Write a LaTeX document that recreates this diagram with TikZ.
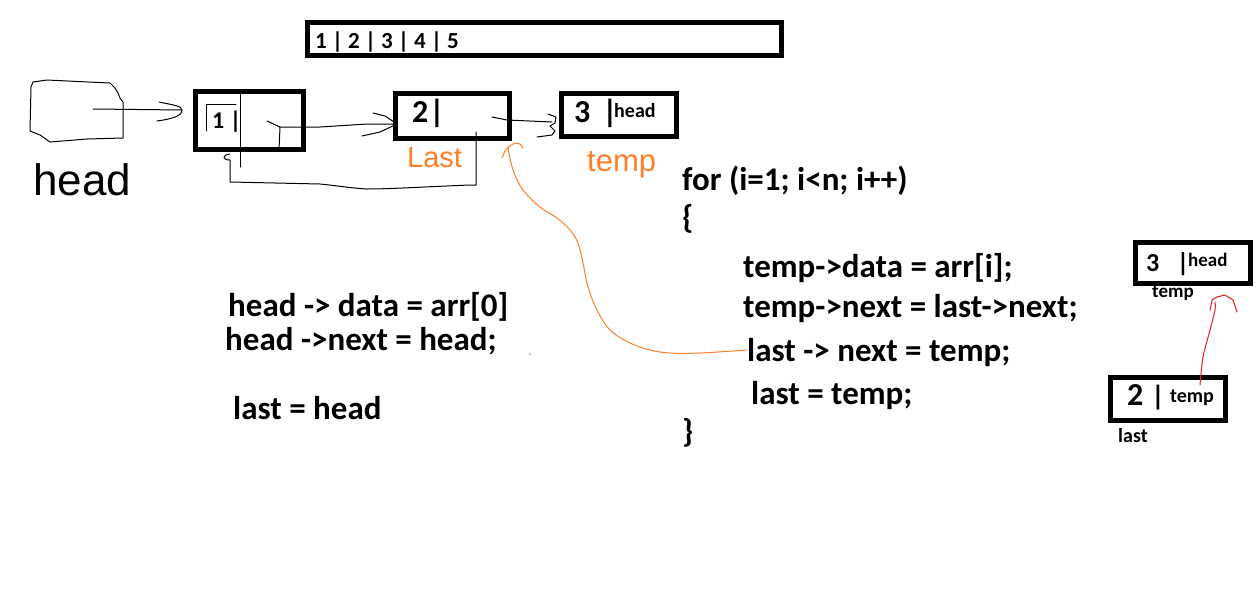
\documentclass[tikz,border=0pt]{standalone}
\usepackage{fontspec}
\setmainfont{Carlito}
\newfontfamily\handfont{Liberation Sans}
\definecolor{orangeink}{RGB}{255,127,39}
\definecolor{redink}{RGB}{237,28,36}
\begin{document}
\begin{tikzpicture}[x=1pt,y=-1pt,
  box/.style={draw, line width=5pt, inner sep=0pt, outer sep=0pt},
  ink/.style={draw, line width=1pt, line join=round, line cap=round},
  code/.style={anchor=base west, inner sep=0pt, font=\bfseries\fontsize{33}{38}\selectfont},
  lbl/.style={anchor=base west, inner sep=0pt, font=\bfseries\fontsize{#1}{#1}\selectfont},
  bar/.style={anchor=base, inner sep=0pt, font=\bfseries\fontsize{#1}{#1}\selectfont},
  hand/.style={anchor=base west, inner sep=0pt, font=\handfont\fontsize{#1}{#1}\selectfont}
]
\useasboundingbox[fill=white] (0,0) rectangle (1259,603);

% array box
\node[box, minimum width=474pt, minimum height=33pt] (arr) at (544.5,39) {};
\node[lbl=23] (arrtxt) at (315,48) {1 | 2 | 3 | 4 | 5};

% head blob
\draw[ink] (31,87) -- (33,82) -- (47,80) -- (88,82) -- (110,83) -- (115,88) -- (118,93) -- (120,98) -- (123,102) -- (123,138) -- (87,139) -- (50,142) -- (40,135) -- (30,131) -- cycle;
\node[hand=44] (headhand) at (33,195) {head};

% nodes
\node[box, minimum width=108pt, minimum height=58pt] (n1) at (249.5,120.5) {};
\node[box, minimum width=114pt, minimum height=45pt] (n2) at (452.5,116) {};
\node[box, minimum width=115pt, minimum height=43pt] (n3) at (619,115) {};

% node 1 contents
\draw[ink] (206,131) -- (206,104) -- (236,104);
\node[lbl=24] (t1) at (212,128) {1 |};
\coordinate (div1a) at (240,91.5);
\coordinate (div1b) at (240,167);
\draw[ink] (div1a) -- (div1b);

% node 2 contents
\node[lbl=32] (t2) at (412,122) {2};
\node[bar=32] (b2) at (437,122) {|};
% node 3 contents
\node[lbl=32] (t3) at (574,122) {3};
\node[bar=32] (b3) at (610,122) {|};
\node[lbl=20] (h3) at (614,117) {head};

% blob -> node 1
\coordinate (blobin) at (93,109);
\coordinate (a1tip) at (182,110);
\draw[ink] (blobin) -- (a1tip);
\draw[ink] (159,102) .. controls (173,105) and (182,106) .. (a1tip) .. controls (182,116) and (172,119) .. (157,121);

% node 1 -> node 2
\coordinate (n1out) at (267,121);
\coordinate (a2tip) at (397,124);
\draw[ink] (n1out) -- (280,127) -- (320,127) -- (367,124) -- (a2tip);
\draw[ink] (280,127) -- (279,150) -- (272,150);
\draw[ink] (373,113) -- (385,116) -- (a2tip) -- (380,132) -- (362,136);

% node 2 -> node 3
\coordinate (n2out) at (492,117);
\coordinate (a3tip) at (552,122);
\draw[ink] (n2out) -- (507,120) -- (a3tip);
\draw[ink] (548,114) -- (556,117) -- (555,123) -- (550,126) -- (555,131) -- (552,135) -- (537,137);

% node 2 back to node 1 (last link)
\coordinate (n2down) at (476,132);
\coordinate (n1hook) at (230,154);
\draw[ink] (n2down) -- (476,185) -- (470,185) .. controls (420,187) and (390,189) .. (367,189) .. controls (350,188) and (340,186) .. (320,184) -- (230,182) -- (230,160) .. controls (222,160) and (222,155) .. (n1hook);

% orange labels
\node[hand=29, text=orangeink] (lastlbl) at (407,167) {Last};
\node[hand=31, text=orangeink] (templbl) at (587,171) {temp};

% orange curve
\coordinate (ostart) at (747,350);
\coordinate (otip) at (508,147);
\draw[orangeink, line width=1pt, line join=round, line cap=round] plot[smooth, tension=0.6] coordinates {(747,350) (700,353) (670,353) (650,350) (630,343) (610,330) (597,310) (588,287) (583,263) (578,243) (570,230) (557,218) (540,207) (523,190) (513,170) (508,147)};
\draw[orangeink, line width=1pt, line join=round, line cap=round] (502,158) -- (505,151) -- (otip) -- (515,143) -- (520,144) -- (523,148);

% left code
\node[code] (c1) at (228,316) {head -> data = arr[0]};
\node[code] (c2) at (225,350) {head ->next = head;};
\node[code] (c3) at (233,419) {last = head};
\fill (530,354) circle (0.6pt);

% right code
\node[code] (f1) at (682,190) {for (i=1; i<n; i++)};
\node[code] (f2) at (682,228) {\{};
\node[code] (f3) at (743,277) {temp->data = arr[i];};
\node[code] (f4) at (743,317) {temp->next = last->next;};
\node[code] (f5) at (747,361) {last -> next = temp;};
\node[code] (f6) at (751,404) {last = temp;};
\node[code] (f7) at (682,442) {\}};

% right-side small nodes
\node[box, minimum width=115pt, minimum height=41pt] (r3) at (1193,263) {};
\node[lbl=26] (r3t) at (1146,271) {3};
\node[bar=26] (r3b) at (1183,271) {|};
\node[lbl=19] (r3h) at (1188,266) {head};
\node[lbl=19] (r3l) at (1152,297) {temp};

\node[box, minimum width=115pt, minimum height=43pt] (r2) at (1168,399) {};
\node[lbl=32] (r2t) at (1127,405) {2};
\node[bar=28] (r2b) at (1158,405) {|};
\node[lbl=20] (r2h) at (1170,402) {temp};
\node[lbl=20] (r2l) at (1118,442) {last};

% red arrow
\coordinate (rstart) at (1200,385);
\coordinate (rtip) at (1212,300);
\draw[redink, line width=1pt, line join=round, line cap=round] plot[smooth] coordinates {(1200,385) (1203,357) (1210,330) (1215,310) (1215,302)};
\draw[redink, line width=1pt, line join=round, line cap=round] (1210,310) -- (rtip) -- (1217,297) -- (1225,295) -- (1233,300) -- (1237,312);
\end{tikzpicture}
\end{document}
